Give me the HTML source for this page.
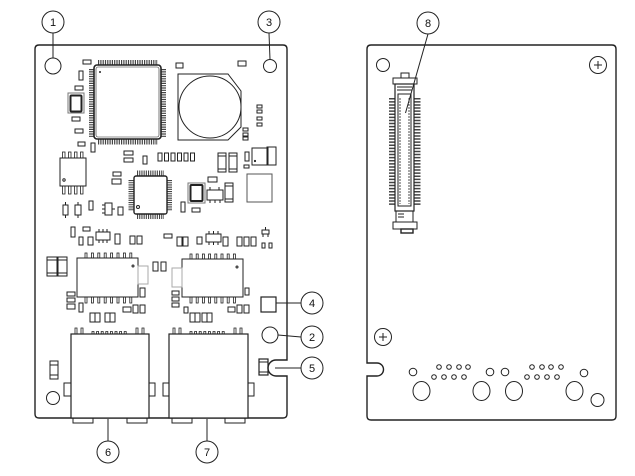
<!DOCTYPE html>
<html><head><meta charset="utf-8"><style>
html,body{margin:0;padding:0;background:#fff;}
svg{display:block;}
text{font-family:"Liberation Sans",sans-serif;font-size:11px;fill:#111;}
</style></head><body>
<svg width="635" height="476" viewBox="0 0 635 476" xmlns="http://www.w3.org/2000/svg">
<rect width="635" height="476" fill="#fff"/>
<g fill="none" stroke="#222" stroke-width="1">
<!-- LEFT BOARD -->
<path d="M39,45 H283 Q287,45 287,49 V360 H276 A8,8 0 0 0 276,376 H287 V414 Q287,418 283,418 H39 Q35,418 35,414 V49 Q35,45 39,45 Z" stroke-width="1.4"/>
<circle cx="53" cy="66" r="8"/>
<circle cx="270" cy="66" r="6.5"/>
<circle cx="270" cy="335" r="8"/>
<circle cx="53" cy="398" r="6.5"/>

<!-- QFP -->
<g stroke="#444" stroke-dasharray="1.2 1.1">
<line x1="98" y1="62.5" x2="158" y2="62.5" stroke-width="5"/>
<line x1="98" y1="142" x2="158" y2="142" stroke-width="5"/>
<line x1="91.5" y1="69" x2="91.5" y2="137" stroke-width="5"/>
<line x1="163.5" y1="69" x2="163.5" y2="137" stroke-width="5"/>
</g>
<rect x="94" y="65" width="67" height="74" rx="3" fill="#fff" stroke-width="1.6"/>
<rect x="96" y="67" width="63" height="70" rx="2" stroke-width="0.6"/>
<circle cx="100" cy="72" r="0.5" fill="#222"/>

<!-- battery -->
<path d="M178,74 H228 L241,91 V127 L228,140 H178 Z"/>
<circle cx="210" cy="107" r="31"/>

<!-- top small parts -->
<rect x="83" y="60" width="8" height="4"/>
<rect x="79" y="71" width="4" height="9"/>
<rect x="75" y="86" width="8" height="4"/>
<rect x="68" y="93" width="16" height="20" stroke="#777"/>
<rect x="70.5" y="95.5" width="11" height="16" rx="1" stroke-width="2"/>
<rect x="72" y="117" width="8" height="4"/>
<rect x="75" y="129" width="8" height="4"/>
<rect x="78" y="142" width="7" height="4"/>
<rect x="91" y="143" width="4" height="9"/>
<rect x="176" y="63" width="7" height="5"/>
<rect x="238" y="61" width="8" height="5"/>
<rect x="257" y="105" width="5" height="3"/>
<rect x="257" y="110" width="5" height="3"/>
<rect x="257" y="117" width="5" height="3"/>
<rect x="257" y="123" width="5" height="3"/>
<rect x="243" y="128" width="5" height="3"/>
<rect x="243" y="133" width="5" height="3"/>
<rect x="243" y="137" width="5" height="3"/>

<!-- SOIC-8 -->
<g stroke-width="0.8">
<rect x="62.5" y="152" width="2.5" height="6"/><rect x="68.5" y="152" width="2.5" height="6"/><rect x="74.5" y="152" width="2.5" height="6"/><rect x="80.5" y="152" width="2.5" height="6"/>
<rect x="62.5" y="186" width="2.5" height="8"/><rect x="68.5" y="186" width="2.5" height="8"/><rect x="74.5" y="186" width="2.5" height="8"/><rect x="80.5" y="186" width="2.5" height="8"/>
</g>
<rect x="60" y="158" width="26" height="28"/>
<circle cx="64" cy="180" r="1.2"/>

<rect x="124" y="151" width="9" height="4"/>
<rect x="124" y="158" width="9" height="4"/>
<rect x="143" y="156" width="4" height="8"/>
<rect x="158" y="153" width="4" height="8"/>
<rect x="164.5" y="153" width="4" height="8"/>
<rect x="171" y="153" width="4" height="8"/>
<rect x="177.5" y="153" width="4" height="8"/>
<rect x="184" y="153" width="4" height="8"/>
<rect x="190.5" y="153" width="4" height="8"/>
<rect x="218" y="153" width="8" height="19"/><line x1="218" y1="156" x2="226" y2="156"/><line x1="218" y1="169" x2="226" y2="169"/>
<rect x="229" y="153" width="8" height="19"/><line x1="229" y1="156" x2="237" y2="156"/><line x1="229" y1="169" x2="237" y2="169"/>
<rect x="245" y="152" width="4" height="9"/>
<rect x="244" y="165" width="5" height="3"/>
<rect x="252" y="148" width="16" height="17"/>
<rect x="267" y="147" width="9" height="18"/>
<circle cx="255" cy="161" r="0.6" fill="#222"/>
<rect x="247" y="174" width="25" height="28" stroke="#555"/>
<rect x="113" y="172" width="8" height="4"/>
<rect x="112" y="179" width="9" height="5"/>

<!-- TQFP small -->
<g stroke="#444" stroke-dasharray="1.1 1.1">
<line x1="137" y1="173" x2="164" y2="173" stroke-width="5"/>
<line x1="137" y1="216.5" x2="164" y2="216.5" stroke-width="5"/>
<line x1="131" y1="180" x2="131" y2="211" stroke-width="5"/>
<line x1="169.5" y1="180" x2="169.5" y2="211" stroke-width="5"/>
</g>
<rect x="134" y="176" width="33" height="38" rx="2" fill="#fff" stroke-width="1.4"/>
<circle cx="138" cy="207" r="1.5"/>

<rect x="188" y="183" width="17" height="20" stroke="#777"/>
<rect x="190.5" y="185" width="12" height="16" rx="1" stroke-width="2"/>
<rect x="208" y="177" width="9" height="5"/>
<rect x="207" y="190" width="16" height="10"/>
<line x1="210" y1="187" x2="210" y2="190"/><line x1="219" y1="187" x2="219" y2="190"/>
<line x1="210" y1="200" x2="210" y2="203"/><line x1="215" y1="200" x2="215" y2="203"/><line x1="220" y1="200" x2="220" y2="203"/>
<rect x="225" y="183" width="8" height="19"/><line x1="225" y1="186" x2="233" y2="186"/><line x1="225" y1="199" x2="233" y2="199"/>
<rect x="192" y="208" width="8" height="4"/>
<rect x="181" y="202" width="4" height="10"/>

<rect x="63" y="205" width="5" height="10"/><line x1="65.5" y1="202" x2="65.5" y2="205"/><line x1="65.5" y1="215" x2="65.5" y2="218"/>
<rect x="75" y="205" width="6" height="10"/><line x1="78" y1="202" x2="78" y2="205"/><line x1="78" y1="215" x2="78" y2="218"/>
<rect x="89" y="201" width="4" height="9"/>
<rect x="105" y="203" width="7" height="12"/><line x1="102" y1="205" x2="105" y2="205"/><line x1="102" y1="209" x2="105" y2="209"/><line x1="102" y1="213" x2="105" y2="213"/><line x1="112" y1="209" x2="115" y2="209"/>
<rect x="118" y="207" width="5" height="8"/>
<rect x="71" y="227" width="4" height="10"/>
<rect x="83" y="227" width="7" height="4"/>
<rect x="79" y="237" width="4" height="8"/>
<rect x="88" y="237" width="5" height="8"/>
<rect x="96" y="232" width="14" height="8"/>
<line x1="99" y1="229" x2="99" y2="232"/><line x1="103" y1="229" x2="103" y2="232"/><line x1="107" y1="229" x2="107" y2="232"/>
<line x1="99" y1="240" x2="99" y2="243"/><line x1="103" y1="240" x2="103" y2="243"/><line x1="107" y1="240" x2="107" y2="243"/>
<rect x="115" y="234" width="5" height="10"/>
<rect x="130" y="236" width="5" height="8"/>
<rect x="137" y="236" width="5" height="8"/>
<rect x="164" y="234" width="8" height="4"/>
<rect x="177" y="237" width="5" height="9"/>
<rect x="183" y="237" width="5" height="9"/>
<rect x="197" y="237" width="5" height="7"/>
<rect x="206" y="234" width="15" height="8"/>
<line x1="209" y1="231" x2="209" y2="234"/><line x1="213.5" y1="231" x2="213.5" y2="234"/><line x1="218" y1="231" x2="218" y2="234"/>
<line x1="209" y1="242" x2="209" y2="245"/><line x1="213.5" y1="242" x2="213.5" y2="245"/><line x1="218" y1="242" x2="218" y2="245"/>
<rect x="223" y="237" width="5" height="9"/>
<rect x="237" y="237" width="5" height="9"/>
<rect x="244" y="237" width="5" height="9"/>
<rect x="251" y="237" width="5" height="9"/>
<rect x="262" y="230" width="7" height="4"/><line x1="265.5" y1="227" x2="265.5" y2="230"/><line x1="263" y1="234" x2="263" y2="237"/><line x1="268" y1="234" x2="268" y2="237"/>
<rect x="262" y="243" width="3" height="5"/>
<rect x="269" y="243" width="3" height="5"/>

<!-- transformers -->
<rect x="47" y="257" width="10" height="19"/><line x1="47" y1="260" x2="57" y2="260"/><line x1="47" y1="273" x2="57" y2="273"/>
<rect x="58" y="257" width="9" height="19"/><line x1="58" y1="260" x2="67" y2="260"/><line x1="58" y1="273" x2="67" y2="273"/>
<g stroke-width="0.8">
<rect x="85" y="253" width="2" height="5"/><rect x="91.4" y="253" width="2" height="5"/><rect x="97.8" y="253" width="2" height="5"/><rect x="104.2" y="253" width="2" height="5"/><rect x="110.6" y="253" width="2" height="5"/><rect x="117" y="253" width="2" height="5"/><rect x="123.4" y="253" width="2" height="5"/><rect x="129.8" y="253" width="2" height="5"/>
<rect x="85" y="297" width="2" height="6"/><rect x="91.4" y="297" width="2" height="6"/><rect x="97.8" y="297" width="2" height="6"/><rect x="104.2" y="297" width="2" height="6"/><rect x="110.6" y="297" width="2" height="6"/><rect x="117" y="297" width="2" height="6"/><rect x="123.4" y="297" width="2" height="6"/><rect x="129.8" y="297" width="2" height="6"/>
<rect x="190" y="254" width="2" height="5"/><rect x="196.2" y="254" width="2" height="5"/><rect x="202.4" y="254" width="2" height="5"/><rect x="208.6" y="254" width="2" height="5"/><rect x="214.8" y="254" width="2" height="5"/><rect x="221" y="254" width="2" height="5"/><rect x="227.2" y="254" width="2" height="5"/><rect x="233.4" y="254" width="2" height="5"/>
<rect x="190" y="297" width="2" height="6"/><rect x="196.2" y="297" width="2" height="6"/><rect x="202.4" y="297" width="2" height="6"/><rect x="208.6" y="297" width="2" height="6"/><rect x="214.8" y="297" width="2" height="6"/><rect x="221" y="297" width="2" height="6"/><rect x="227.2" y="297" width="2" height="6"/><rect x="233.4" y="297" width="2" height="6"/>
</g>
<rect x="77" y="258" width="61" height="39"/>
<circle cx="133" cy="266" r="1"/>
<rect x="182" y="259" width="61" height="38"/>
<circle cx="237" cy="267" r="1"/>
<rect x="138" y="266" width="10" height="18" stroke="#aaa"/>
<rect x="172" y="268" width="10" height="19" stroke="#aaa"/>
<rect x="153" y="262" width="5" height="9"/>
<rect x="161" y="262" width="5" height="9"/>
<rect x="140" y="288" width="5" height="9"/>
<rect x="245" y="288" width="4" height="7"/>
<rect x="67" y="292" width="8" height="4"/>
<rect x="67" y="298" width="8" height="4"/>
<rect x="67" y="304" width="8" height="5"/>
<rect x="79" y="303" width="4" height="9"/>
<rect x="90" y="313" width="5" height="9"/><rect x="95" y="313" width="5" height="9"/>
<rect x="105" y="313" width="5" height="9"/><rect x="110" y="313" width="5" height="9"/>
<rect x="123" y="307" width="8" height="5"/>
<rect x="133" y="305" width="5" height="8"/>
<rect x="140" y="305" width="5" height="8"/>
<rect x="172" y="291" width="7" height="4"/>
<rect x="172" y="297" width="7" height="4"/>
<rect x="172" y="303" width="7" height="4"/>
<rect x="184" y="307" width="4" height="6"/>
<rect x="190" y="313" width="5" height="9"/><rect x="195" y="313" width="5" height="9"/>
<rect x="202" y="313" width="5" height="9"/><rect x="207" y="313" width="5" height="9"/>
<rect x="228" y="307" width="7" height="5"/>
<rect x="237" y="305" width="5" height="8"/>
<rect x="244" y="305" width="5" height="8"/>

<!-- item 4 box -->
<rect x="261" y="297" width="15" height="15" stroke-width="1.2"/>

<!-- RJ45 left -->
<g stroke-width="0.8">
<path d="M75,334 V328 H77 V334 M81,334 V328 H83 V334"/>
<path d="M136,334 V328 H138 V334 M142,334 V328 H144 V334"/>
<path d="M92,334 V331.5 H94 V334 M96.6,334 V331.5 H98.6 V334 M101.2,334 V331.5 H103.2 V334 M105.8,334 V331.5 H107.8 V334 M110.4,334 V331.5 H112.4 V334 M115,334 V331.5 H117 V334 M119.6,334 V331.5 H121.6 V334 M124.2,334 V331.5 H126.2 V334"/>
<path d="M173,334 V328 H175 V334 M179,334 V328 H181 V334"/>
<path d="M234,334 V328 H236 V334 M240,334 V328 H242 V334"/>
<path d="M190,334 V331.5 H192 V334 M194.6,334 V331.5 H196.6 V334 M199.2,334 V331.5 H201.2 V334 M203.8,334 V331.5 H205.8 V334 M208.4,334 V331.5 H210.4 V334 M213,334 V331.5 H215 V334 M217.6,334 V331.5 H219.6 V334 M222.2,334 V331.5 H224.2 V334"/>
</g>
<rect x="71" y="334" width="78" height="84" fill="#fff" stroke-width="1.2"/>
<rect x="64" y="383" width="7" height="13"/>
<rect x="149" y="383" width="6" height="13"/>
<rect x="73" y="418" width="20" height="5"/>
<rect x="127" y="418" width="20" height="5"/>
<rect x="169" y="334" width="79" height="84" fill="#fff" stroke-width="1.2"/>
<rect x="163" y="383" width="6" height="13"/>
<rect x="248" y="383" width="6" height="13"/>
<rect x="172" y="418" width="20" height="5"/>
<rect x="225" y="418" width="20" height="5"/>

<rect x="50" y="361" width="8" height="18"/><line x1="50" y1="365" x2="58" y2="365"/><line x1="50" y1="375" x2="58" y2="375"/>
<rect x="259" y="359" width="9" height="16" stroke-width="1.2"/><line x1="259" y1="362" x2="268" y2="362"/><line x1="259" y1="372" x2="268" y2="372"/>

<!-- callout lines left -->
<line x1="53" y1="33" x2="53" y2="58"/>
<line x1="269" y1="33" x2="270" y2="59.5"/>
<line x1="301" y1="303" x2="276" y2="303"/>
<line x1="301" y1="337" x2="278" y2="335"/>
<line x1="301" y1="368" x2="275" y2="368"/>
<line x1="108" y1="441" x2="108" y2="419"/>
<line x1="207" y1="441" x2="207" y2="419"/>

<!-- RIGHT BOARD -->
<path d="M371,45 H612 Q616,45 616,49 V416 Q616,420 612,420 H371 Q367,420 367,416 V376 H377 A6.5,6.5 0 0 0 377,363 H367 V49 Q367,45 371,45 Z" stroke-width="1.4"/>
<circle cx="383" cy="65" r="6.5"/>
<circle cx="598" cy="65" r="8.5"/>
<line x1="594" y1="65" x2="602" y2="65"/><line x1="598" y1="61" x2="598" y2="69"/>
<circle cx="383" cy="337" r="8.5"/>
<line x1="379" y1="337" x2="387" y2="337"/><line x1="383" y1="333" x2="383" y2="341"/>

<!-- board-to-board connector -->
<g stroke="#444" stroke-dasharray="1.5 1.6">
<line x1="392" y1="98" x2="392" y2="206" stroke-width="6"/>
<line x1="417.5" y1="98" x2="417.5" y2="206" stroke-width="6"/>
</g>
<rect x="401" y="73" width="8" height="5"/>
<rect x="393" y="78" width="24" height="6" fill="#fff"/>
<rect x="395" y="84" width="19" height="127" fill="#fff" stroke-width="1.2"/>
<line x1="397" y1="87" x2="412" y2="87"/>
<line x1="397" y1="90" x2="412" y2="90"/>
<rect x="398" y="94" width="13" height="112"/>
<line x1="400" y1="98" x2="400" y2="204" stroke-dasharray="2 1" stroke-width="0.8"/>
<line x1="409" y1="98" x2="409" y2="204" stroke-dasharray="2 1" stroke-width="0.8"/>
<rect x="396" y="211" width="17" height="11"/>
<line x1="398" y1="214" x2="404" y2="214"/><line x1="398" y1="217" x2="404" y2="217"/>
<rect x="393" y="222" width="24" height="7" fill="#fff"/>
<rect x="401" y="229" width="12" height="4" stroke-width="1.4"/>

<!-- bottom holes right board -->
<circle cx="413" cy="372" r="3.8"/>
<circle cx="439" cy="367" r="2.3"/><circle cx="449" cy="367" r="2.3"/><circle cx="459" cy="367" r="2.3"/><circle cx="468" cy="367" r="2.3"/>
<circle cx="434" cy="377" r="2.3"/><circle cx="444" cy="377" r="2.3"/><circle cx="454" cy="377" r="2.3"/><circle cx="464" cy="377" r="2.3"/>
<circle cx="490" cy="372" r="3.8"/>
<circle cx="505" cy="372" r="3.8"/>
<circle cx="532" cy="367" r="2.3"/><circle cx="542" cy="367" r="2.3"/><circle cx="551" cy="367" r="2.3"/><circle cx="561" cy="367" r="2.3"/>
<circle cx="527" cy="377" r="2.3"/><circle cx="537" cy="377" r="2.3"/><circle cx="547" cy="377" r="2.3"/><circle cx="557" cy="377" r="2.3"/>
<circle cx="584" cy="373" r="3.8"/>
<ellipse cx="421.5" cy="391" rx="8.5" ry="9.5"/>
<ellipse cx="481.5" cy="391" rx="8.5" ry="9.5"/>
<ellipse cx="514" cy="391" rx="8.5" ry="9.5"/>
<ellipse cx="574.5" cy="391" rx="8.5" ry="9.5"/>
<circle cx="597.5" cy="400" r="6.5"/>

<line x1="428" y1="34" x2="405.5" y2="113"/>

<!-- callout circles -->
<g fill="#fff">
<circle cx="53" cy="22" r="11"/>
<circle cx="269" cy="22" r="11"/>
<circle cx="428" cy="23" r="11"/>
<circle cx="312" cy="303" r="11"/>
<circle cx="312" cy="337" r="11"/>
<circle cx="312" cy="368" r="11"/>
<circle cx="108" cy="452" r="11"/>
<circle cx="207" cy="452" r="11"/>
</g>
</g>
<g text-anchor="middle">
<text x="53" y="26">1</text>
<text x="269" y="26">3</text>
<text x="428" y="27">8</text>
<text x="312" y="307">4</text>
<text x="312" y="341">2</text>
<text x="312" y="372">5</text>
<text x="108" y="456">6</text>
<text x="207" y="456">7</text>
</g>
</svg>
</body></html>
